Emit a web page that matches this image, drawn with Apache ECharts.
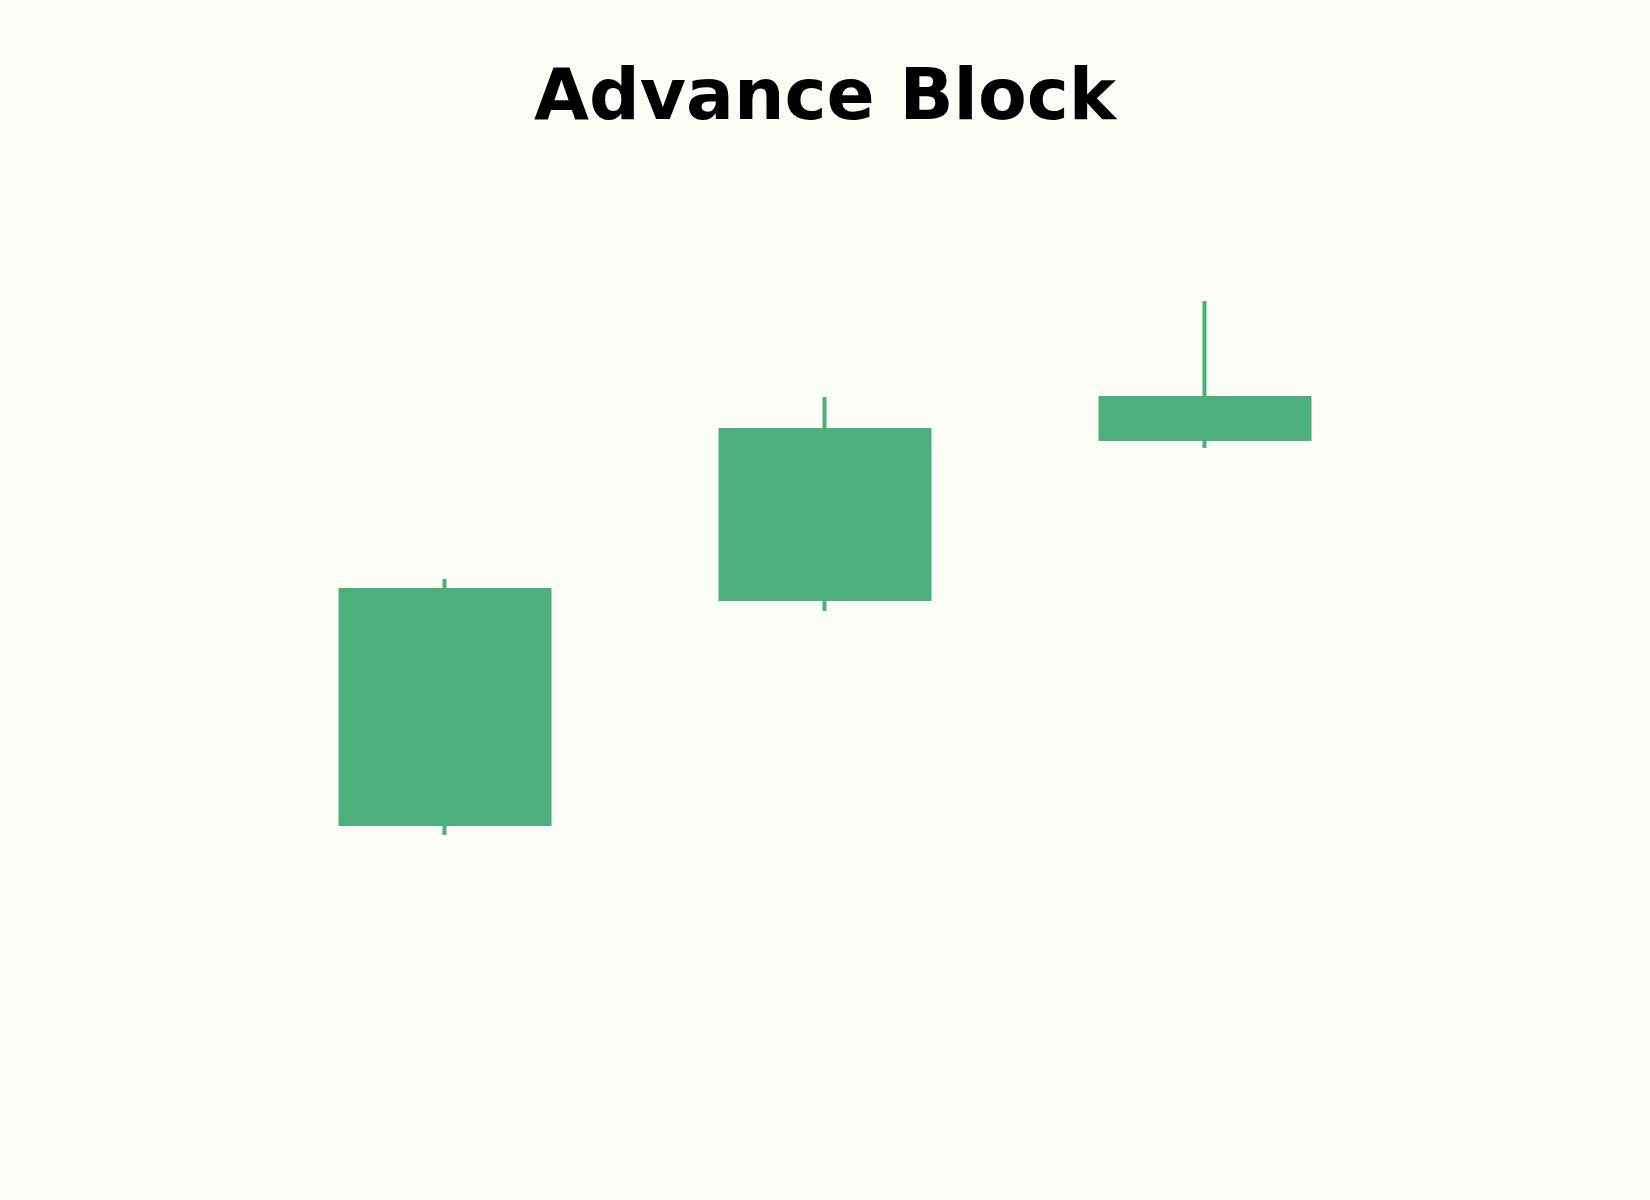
<!DOCTYPE html>
<html>
<head>
<meta charset="utf-8">
<title>Advance Block</title>
<script src="https://cdn.jsdelivr.net/npm/echarts@6/dist/echarts.min.js"></script>
<style>
    html, body { margin: 0; padding: 0; background: #fdfdf8; }
    #candles { width: 1650px; height: 1200px; }
</style>
</head>
<body>
<div id="candles"></div>
<script>
// Candle data (open, close, low, high)
var days = ['1', '2', '3'];
var opens = [13.8, 25.05, 33.05];
var closes = [25.5, 33.5, 35.1];
var lows = [13.25, 24.45, 32.6];
var highs = [26.05, 35.15, 39.95];

var candleElement = document.getElementById('candles');

if (candleElement) {

    // Initialize chart
    var candleChart = echarts.init(candleElement);

    var candleData = days.map(function (d, i) {
        return [opens[i], closes[i], lows[i], highs[i]];
    });

    candleChart.setOption({
        animation: false,
        backgroundColor: '#fdfdf8',

        // Title
        title: {
            text: 'Advance Block',
            left: 'center',
            top: 60,
            textStyle: {
                fontFamily: 'DejaVu Sans',
                fontSize: 71,
                fontWeight: 'bold',
                color: '#000'
            }
        },

        grid: {
            left: 255,
            right: 255,
            top: 100,
            bottom: 100
        },

        xAxis: {
            type: 'category',
            data: days,
            show: false
        },

        yAxis: {
            type: 'value',
            min: 0,
            max: 50,
            show: false
        },

        series: [{
            type: 'candlestick',
            barWidth: 209,
            itemStyle: {
                color: '#4daf7e',
                borderColor: '#4daf7e',
                color0: '#e15759',
                borderColor0: '#e15759',
                borderWidth: 4
            },
            data: candleData
        }]
    });
}
</script>
</body>
</html>
